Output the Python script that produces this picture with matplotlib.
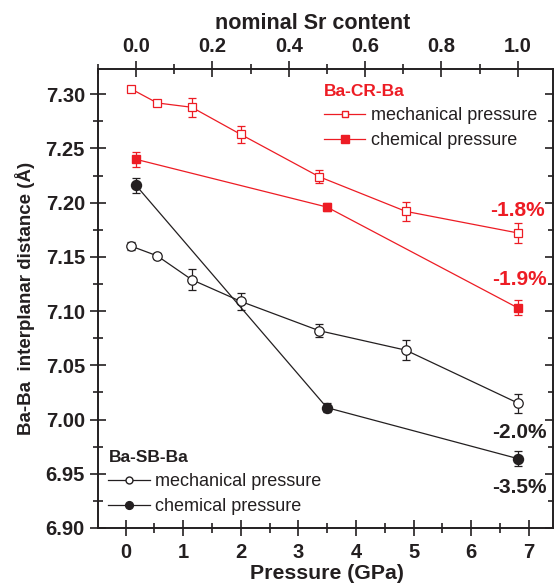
import matplotlib
matplotlib.use("Agg")
import matplotlib.pyplot as plt
from matplotlib.lines import Line2D
from matplotlib.ticker import MultipleLocator, FormatStrFormatter
import numpy as np

plt.rcParams['font.family'] = ['Liberation Sans', 'DejaVu Sans']

RED = '#ed1c24'
DARK = '#231f20'

# mechanical pressure runs (GPa)
p_mech = [0.095, 0.55, 1.15, 2.0, 3.36, 4.865, 6.82]
cr_mech = [7.305, 7.292, 7.288, 7.263, 7.224, 7.192, 7.172]
cr_mech_err = [0.003, 0.002, 0.009, 0.008, 0.006, 0.009, 0.0095]
sb_mech = [7.160, 7.151, 7.129, 7.109, 7.082, 7.064, 7.015]
sb_mech_err = [0.004, 0.003, 0.0095, 0.008, 0.006, 0.009, 0.009]

# chemical pressure: Sr substitution
sr_chem = [0.0, 0.5, 1.0]
cr_chem = [7.240, 7.196, 7.103]
cr_chem_err = [0.007, 0.004, 0.007]
sb_chem = [7.216, 7.011, 6.964]
sb_chem_err = [0.007, 0.004, 0.007]


# Sr content <-> equivalent pressure scale
def sr2p(s):
    return 0.182 + 6.627 * np.asarray(s)


def p2sr(p):
    return (np.asarray(p) - 0.182) / 6.627


fig = plt.figure(figsize=(5.54, 5.83), dpi=100)
ax = fig.add_axes([97.5 / 554, 55 / 583, 455.5 / 554, 459 / 583])

eb = dict(capsize=2.6, elinewidth=0.9, capthick=0.9, linewidth=0.9)

ax.errorbar(p_mech, cr_mech, yerr=cr_mech_err, color=RED, marker='s', ms=5.8,
            mfc='white', mec=RED, mew=0.9, zorder=3, **eb)
ax.errorbar(sr2p(sr_chem), cr_chem, yerr=cr_chem_err, color=RED, marker='s',
            ms=6.2, mfc=RED, mec=RED, zorder=3, **eb)
ax.errorbar(p_mech, sb_mech, yerr=sb_mech_err, color=DARK, marker='o', ms=6.8,
            mfc='white', mec=DARK, mew=0.9, zorder=3, **eb)
ax.errorbar(sr2p(sr_chem), sb_chem, yerr=sb_chem_err, color=DARK, marker='o',
            ms=7.2, mfc=DARK, mec=DARK, zorder=3, **eb)


# relative contraction at the highest pressure / full Sr substitution
def pct(vals):
    return '%.1f%%' % ((vals[-1] - vals[0]) / vals[0] * 100)


ax.text(6.81, 7.193, pct(cr_mech), color=RED, fontsize=15, fontweight='bold',
        ha='center', va='center')
ax.text(6.83, 7.129, pct(cr_chem), color=RED, fontsize=15, fontweight='bold',
        ha='center', va='center')
ax.text(6.83, 6.988, pct(sb_mech), color=DARK, fontsize=15, fontweight='bold',
        ha='center', va='center')
ax.text(6.83, 6.9375, pct(sb_chem), color=DARK, fontsize=15, fontweight='bold',
        ha='center', va='center')

xlim = (-0.486, 7.42)
ax.set_xlim(*xlim)
ax.set_ylim(6.90, 7.3233)

ax.xaxis.set_major_locator(MultipleLocator(1))
ax.xaxis.set_minor_locator(MultipleLocator(0.5))
ax.yaxis.set_major_locator(MultipleLocator(0.05))
ax.yaxis.set_minor_locator(MultipleLocator(0.025))
ax.yaxis.set_major_formatter(FormatStrFormatter('%.2f'))

for s in ax.spines.values():
    s.set_linewidth(1.4)
    s.set_color(DARK)

ax.tick_params(which='both', direction='inout', right=True, top=False,
               labelright=False, width=1.2, colors=DARK, labelsize=14.5)
ax.tick_params(which='major', length=12, pad=3)
ax.tick_params(axis='x', which='major', pad=4.5)
ax.tick_params(which='minor', length=7)
for lab in ax.get_xticklabels() + ax.get_yticklabels():
    lab.set_fontweight('bold')

ax.set_xlabel('Pressure (GPa)', fontsize=15.3, fontweight='bold', color=DARK,
              labelpad=2)
ax.xaxis.label.set_x(0.503)
ax.set_ylabel('Ba-Ba  interplanar distance (Å)', fontsize=13.5,
              fontweight='bold', color=DARK, labelpad=8)

# top axis: nominal Sr content on the same pressure scale
top = ax.twiny()
top.set_xlim(p2sr(xlim[0]), p2sr(xlim[1]))
top.xaxis.set_major_locator(MultipleLocator(0.2))
top.xaxis.set_minor_locator(MultipleLocator(0.1))
top.xaxis.set_major_formatter(FormatStrFormatter('%.1f'))
top.tick_params(which='both', direction='inout', width=1.2, colors=DARK,
                labelsize=14.5, left=False, right=False, labelleft=False,
                labelright=False)
top.tick_params(which='major', length=12, pad=3)
top.tick_params(which='minor', length=7)
for lab in top.get_xticklabels():
    lab.set_fontweight('bold')
for s in top.spines.values():
    s.set_visible(False)
top.set_xlabel('nominal Sr content', fontsize=15.5, fontweight='bold',
               color=DARK, labelpad=6)
top.xaxis.label.set_x(0.473)

# legends
leg_kw = dict(frameon=False, fontsize=13, handlelength=2.3, handletextpad=0.3,
              labelspacing=0.45, borderpad=0, borderaxespad=0, loc='upper left',
              alignment='left', title_fontproperties={'weight': 'bold', 'size': 12.5})

cr_handles = [Line2D([], [], color=RED, lw=0.9, marker='s', ms=5.0, mfc='white', mec=RED),
              Line2D([], [], color=RED, lw=0.9, marker='s', ms=5.4, mfc=RED, mec=RED)]
leg1 = ax.legend(cr_handles, ['mechanical pressure', 'chemical pressure'],
                 title='Ba-CR-Ba', bbox_to_anchor=(0.497, 0.967), **leg_kw)
leg1.get_title().set_color(RED)
for t in leg1.get_texts():
    t.set_color(DARK)
ax.add_artist(leg1)

sb_handles = [Line2D([], [], color=DARK, lw=0.9, marker='o', ms=5.0, mfc='white', mec=DARK),
              Line2D([], [], color=DARK, lw=0.9, marker='o', ms=5.6, mfc=DARK, mec=DARK)]
leg2 = ax.legend(sb_handles, ['mechanical pressure', 'chemical pressure'],
                 title='Ba-SB-Ba', bbox_to_anchor=(0.024, 0.170), **leg_kw)
leg2.get_title().set_color(DARK)
for t in leg2.get_texts():
    t.set_color(DARK)

fig.savefig('out.png', dpi=100)
